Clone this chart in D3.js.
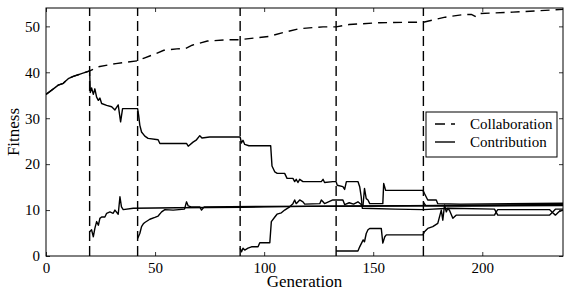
<!DOCTYPE html>
<html>
<head>
<meta charset="utf-8">
<script src="https://cdn.jsdelivr.net/npm/d3@7"></script>
<style>
  body { margin: 0; background: #fff; }
  svg text { fill: #000; }
</style>
</head>
<body>
<div id="chart"></div>
<script>
// data: [generation, fitness]
const collaboration = [[0,35.2],[3.4,36.4],[5.6,37.2],[7.9,37.6],[10.2,38.6],[12.5,39.1],[15.6,39.6],[20,40.3],
  [24,41.2],[32,41.9],[42,42.5],[45,43.1],[50,44.0],[54,44.8],[60,45.1],[64,45.2],[67,45.9],[74,46.8],[84,47.1],
  [89,47.1],[96,47.5],[102,47.8],[110,48.8],[116,49.5],[127,49.9],[133,49.9],[139,50.4],[153,50.8],[168,50.9],
  [173,50.9],[183,52.0],[192,52.6],[195,52.6],[197,52.1],[199,52.8],[214,53.1],[237,53.7]];

const species1 = [[0,35.2],[3.4,36.4],[5.6,37.2],[7.9,37.6],[10.2,38.6],[12.5,39.1],[15.6,39.6],[20,40.3],
  [20.3,35.6],[20.9,36.6],[21.7,35.2],[22.4,36.4],[23.2,34.6],[24,33.9],[24.7,34.4],[25.5,33.2],[27.8,32.8],
  [30.1,32.5],[31.6,31.8],[33.1,32.9],[34.2,29.2],[35.1,32.1],[42,32.1],[42.5,30.5],[43,28.5],[43.8,27.0],
  [45.3,26.1],[46.8,25.6],[51.4,25.3],[52.2,24.5],[64.4,24.5],[65.2,23.9],[67.4,24.8],[69,25.3],[70.5,26.2],
  [71.5,25.7],[75,25.9],[89,25.9],[89.6,24.6],[90.3,25.2],[91.1,24.3],[93,24.0],[103,24.0],[103.6,19.6],
  [104.9,18.3],[106,18.0],[109.4,18.0],[110.5,16.9],[113.2,16.9],[114,16.2],[114.7,16.7],[115.5,16.0],
  [116.3,16.7],[117.8,16.2],[126.2,16.2],[127,16.7],[127.7,16.0],[131.5,16.2],[133,16.2],[133.5,15.4],
  [136.1,15.1],[136.9,14.5],[137.7,16.2],[143,16.2],[143.8,15.1],[144.5,12.9],[145,10.4],[160,10.2],
  [173,10.1],[185,10.4],[205.6,10.2],[206.4,9.5],[207.1,8.9],[230.8,8.9],[232.3,9.6],[233.5,10.2],[237,10.2]];

const species2 = [[20,5.3],[20.9,5.7],[21.7,4.2],[22.4,6.0],[23.2,7.5],[24,6.7],[24.7,8.2],[25.5,8.5],[27,8.5],
  [27.8,9.3],[29.3,9.6],[30.8,9.3],[31.6,10.0],[33.1,9.1],[33.9,12.9],[34.6,10.7],[35.4,10.1],[40,10.4],
  [60,10.5],[90,10.6],[120,10.8],[150,10.9],[200,11.0],[237,11.1]];

const species3 = [[42,3.8],[43,4.9],[43.8,6.4],[44.6,7.0],[45.3,7.3],[47.6,8.0],[49.9,8.4],[51.4,8.7],[53,9.6],
  [54.5,10.1],[58.3,10.0],[63.5,10.2],[64.4,11.8],[65.2,10.9],[66.5,10.7],[70.5,10.7],[71.3,10.0],[72.5,10.7],
  [100,10.8],[150,10.9],[237,11.2]];

const species4 = [[89,1.7],[89.6,0.9],[90.3,1.7],[91.1,1.3],[92.6,1.7],[94.2,2.0],[97.2,2.0],[98,2.9],[102.6,2.9],
  [103.3,7.5],[104.9,8.5],[105.9,9.1],[107.9,9.4],[109.4,10.0],[111.7,10.7],[113.2,11.4],[114,12.2],[114.7,11.4],
  [116.3,12.2],[117.8,11.8],[118.6,11.3],[125.5,11.4],[126.2,12.2],[127,11.8],[127.7,11.4],[131.5,12.2],
  [136.1,12.2],[136.9,11.2],[139,11.6],[141,11.3],[143,11.8],[145.3,10.9],[146,14.7],[146.8,12.5],[147.6,12.2],
  [148.4,11.4],[154.4,11.4],[154.8,15.8],[155.7,14.3],[172.8,14.3],[173.5,13.6],[175,12.2],[178.9,12.2],
  [179.6,11.4],[190,11.3],[237,11.5]];

const species5 = [[133,1.1],[143,1.1],[143.8,2.0],[145.4,3.5],[146,3.1],[146.8,4.9],[147.6,5.7],[148.4,6.0],
  [153.7,6.0],[154.4,2.8],[155.3,4.2],[156,4.6],[172.8,4.6],[173.5,5.3],[175,6.0],[177.3,6.4],[179.6,7.1],
  [181.2,10.0],[181.9,7.8],[182.7,11.1],[183.5,9.6],[184.2,10.4],[185,9.9],[186.5,8.2],[188,8.9],[205.6,8.9],
  [206.4,9.6],[207.1,10.1],[230.8,10.1],[232.3,9.4],[233.5,8.9],[235,9.6],[237,10.0]];

const species6 = [[173,11.7],[174,11.0],[190,10.9],[237,11.0]];

const newSpeciesAt = [20, 42, 89, 133, 173];
const xTicks = [0, 50, 100, 150, 200];
const yTicks = [0, 10, 20, 30, 40, 50];

const width = 581, height = 291,
  m = { top: 8, right: 18, bottom: 35, left: 46 },
  serif = "'Liberation Serif'";

const svg = d3.select("#chart").append("svg")
  .attr("width", width)
  .attr("height", height);

const x = d3.scaleLinear().domain([0, 237]).range([m.left, width - m.right]);
const y = d3.scaleLinear().domain([0, 54]).range([height - m.bottom, m.top]);

svg.append("clipPath").attr("id", "plot")
  .append("rect")
  .attr("x", m.left).attr("y", m.top)
  .attr("width", width - m.left - m.right)
  .attr("height", height - m.top - m.bottom);

const plot = svg.append("g").attr("clip-path", "url(#plot)");

// markers for each new species
plot.selectAll(".split")
  .data(newSpeciesAt)
  .enter()
  .append("line")
  .attr("class", "split")
  .attr("x1", d => x(d)).attr("x2", d => x(d))
  .attr("y1", y(0)).attr("y2", y(54))
  .attr("stroke", "#000")
  .attr("stroke-width", 1.4)
  .attr("stroke-dasharray", "10,5");

const line = d3.line().x(d => x(d[0])).y(d => y(d[1]));

plot.selectAll(".contrib")
  .data([species1, species2, species3, species4, species5, species6])
  .enter()
  .append("path")
  .attr("class", "contrib")
  .attr("d", line)
  .attr("fill", "none")
  .attr("stroke", "#000")
  .attr("stroke-width", 1.4)
  .attr("stroke-linejoin", "round");

plot.append("path")
  .datum(collaboration)
  .attr("d", line)
  .attr("fill", "none")
  .attr("stroke", "#000")
  .attr("stroke-width", 1.4)
  .attr("stroke-dasharray", "9,6");

// axes, ticks pointing inwards on all four sides
const addAxis = (axis, tr, labels) => {
  const g = svg.append("g").attr("transform", tr).call(axis)
    .attr("font-family", serif)
    .attr("font-size", 15);
  g.select(".domain").remove();
  g.selectAll("line").attr("stroke", "#000").attr("stroke-width", 0.8);
  if (!labels) g.selectAll("text").remove();
  return g;
};

addAxis(d3.axisBottom(x).tickValues(xTicks).tickSize(-4).tickPadding(6),
  `translate(0,${y(0)})`, true);
addAxis(d3.axisTop(x).tickValues(xTicks).tickSize(-4), `translate(0,${y(54)})`, false);
addAxis(d3.axisLeft(y).tickValues(yTicks).tickSize(-4).tickPadding(6),
  `translate(${x(0)},0)`, true);
addAxis(d3.axisRight(y).tickValues(yTicks).tickSize(-4), `translate(${x(237)},0)`, false);

svg.append("rect")
  .attr("x", m.left).attr("y", m.top)
  .attr("width", width - m.left - m.right)
  .attr("height", height - m.top - m.bottom)
  .attr("fill", "none")
  .attr("stroke", "#000")
  .attr("stroke-width", 1);

// axis labels
svg.append("text")
  .attr("x", (m.left + width - m.right) / 2)
  .attr("y", 287)
  .attr("text-anchor", "middle")
  .attr("font-family", serif)
  .attr("font-size", 17)
  .text("Generation");

svg.append("text")
  .attr("transform", `translate(19,${(m.top + height - m.bottom) / 2}) rotate(-90)`)
  .attr("text-anchor", "middle")
  .attr("font-family", serif)
  .attr("font-size", 17)
  .text("Fitness");

// legend
const legend = svg.append("g").attr("transform", "translate(426,112)");
legend.append("rect")
  .attr("width", 131).attr("height", 45)
  .attr("fill", "#fff")
  .attr("stroke", "#000")
  .attr("stroke-width", 1);

const legendItems = [
  { name: "Collaboration", dash: "10,6" },
  { name: "Contribution", dash: null }
];

const item = legend.selectAll(".legend-item")
  .data(legendItems)
  .enter()
  .append("g")
  .attr("class", "legend-item")
  .attr("transform", (d, i) => `translate(0,${12 + i * 18})`);

item.append("line")
  .attr("x1", 9).attr("x2", 29)
  .attr("stroke", "#000")
  .attr("stroke-width", 1.4)
  .attr("stroke-dasharray", d => d.dash);

item.append("text")
  .attr("x", 44)
  .attr("y", 5)
  .attr("font-family", serif)
  .attr("font-size", 15)
  .text(d => d.name);
</script>
</body>
</html>
